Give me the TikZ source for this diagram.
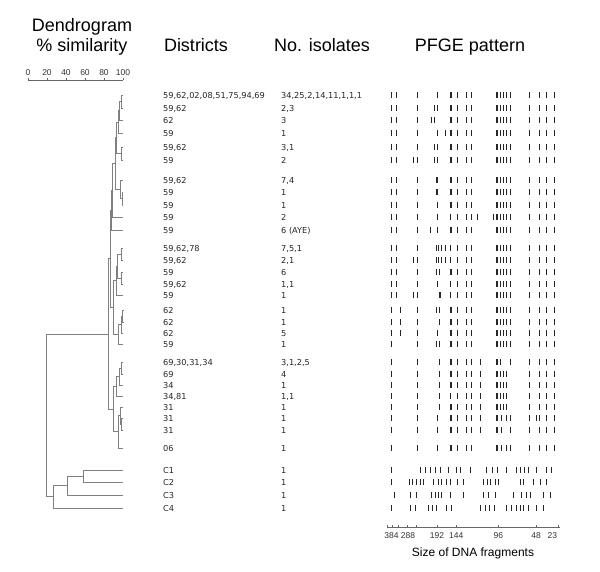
\documentclass[tikz,border=0pt]{standalone}
\usepackage{fontspec}
\setmainfont{Liberation Sans}
\newfontfamily\dvs{DejaVu Sans}
\newcommand\thinb[2]{\foreach \bx in {#2} {\fill[band] (\bx-0.45,#1-3.2) rectangle (\bx+0.45,#1+3.2);}}
\newcommand\thickb[2]{\foreach \bx in {#2} {\fill[band] (\bx-0.95,#1-3.2) rectangle (\bx+0.95,#1+3.2);}}
\newcommand\brk[5]{\draw[dend] (#1,#2) -- (#3,#2) -- (#3,#4) -- (#5,#4);}
\begin{document}
\begin{tikzpicture}[x=1pt,y=-1pt,
  dend/.style={draw=black!50, line width=0.6pt},
  band/.style={fill=black!85},
  hdr/.style={font=\fontsize{18}{20}\selectfont, inner sep=0pt, anchor=base},
  dat/.style={font=\dvs\fontsize{8.2}{9}\selectfont, inner sep=0pt, anchor=base west, text=black!85},
  axl/.style={font=\fontsize{8.5}{10}\selectfont, inner sep=0pt, anchor=base, text=black!80},
  axline/.style={draw=black!60, line width=0.5pt}]
\useasboundingbox (0,0) rectangle (600,572);
\fill[white] (0,0) rectangle (600,572);
% headers
\node[hdr] (h1) at (82,31.5) {Dendrogram};
\node[hdr] (h2) at (82,52) {\% similarity};
\node[hdr] (h3) at (196,52) {Districts};
\node[hdr] (h4) at (322,52) {No. isolates};
\node[hdr] (h5) at (470,52) {PFGE pattern};
% similarity axis
\draw[axline] (28,80) -- (123,80);
\foreach \p/\l in {0/0,20/20,40/40,60/60,80/80,100/100} {
  \draw[axline] (28+0.95*\p,80) -- (28+0.95*\p,78);
  \node[axl] (s\p) at (28+0.95*\p,75.5) {\l};
}
% table text
\foreach \i/\y/\d/\n in {
 1/95/{59,62,02,08,51,75,94,69}/{34,25,2,14,11,1,1,1},
 2/108/{59,62}/{2,3}, 3/120/{62}/{3}, 4/133/{59}/{1}, 5/147/{59,62}/{3,1}, 6/160/{59}/{2},
 7/180/{59,62}/{7,4}, 8/192/{59}/{1}, 9/205/{59}/{1}, 10/217/{59}/{2}, 11/230/{59}/{6 (AYE)},
 12/248/{59,62,78}/{7,5,1}, 13/260/{59,62}/{2,1}, 14/272/{59}/{6}, 15/284/{59,62}/{1,1}, 16/295/{59}/{1},
 17/310/{62}/{1}, 18/322/{62}/{1}, 19/333/{62}/{5}, 20/344/{59}/{1},
 21/362/{69,30,31,34}/{3,1,2,5}, 22/374/{69}/{4}, 23/385/{34}/{1}, 24/396/{34,81}/{1,1},
 25/407/{31}/{1}, 26/418/{31}/{1}, 27/430/{31}/{1}, 28/448/{06}/{1},
 29/470/{C1}/{1}, 30/482/{C2}/{1}, 31/495/{C3}/{1}, 32/508/{C4}/{1}} {
  \node[dat] (d\i) at (163,\y+3.1) {\d};
  \node[dat] (n\i) at (281,\y+3.1) {\n};
}
% dendrogram
\brk{123}{95}{121}{108}{123}
\brk{121}{101.5}{119.5}{120}{123}
\brk{119.5}{110.75}{118.5}{133}{123}
\brk{123}{147}{121}{160}{123}
\brk{118.5}{121.9}{116.5}{153.5}{121}
\brk{123}{192}{122}{205}{123}
\brk{123}{180}{120.5}{198.5}{122}
\brk{116.5}{137.7}{115}{189.25}{120.5}
\brk{115}{163.5}{112.5}{217}{123}
\brk{112.5}{190.25}{111}{230}{123}
\brk{123}{248}{121}{260}{123}
\brk{123}{272}{121}{284}{123}
\brk{121}{254}{117.5}{278}{121}
\brk{117.5}{266}{116}{295}{123}
\brk{123}{310}{122.5}{322}{123}
\brk{122.5}{316}{121.5}{333}{123}
\brk{121.5}{324.5}{118.5}{344}{123}
\brk{116}{280.5}{113.3}{334.25}{118.5}
\brk{111}{210.1}{110}{307.4}{113.3}
\brk{123}{362}{121}{374}{123}
\brk{121}{368}{119.5}{385}{123}
\brk{119.5}{376.5}{116.5}{396}{123}
\brk{123}{418}{121}{430}{123}
\brk{123}{407}{120}{424}{121}
\brk{120}{415.5}{118.3}{448}{123}
\brk{116.5}{386.25}{113.3}{431.75}{118.3}
\brk{110}{258.75}{108.3}{409}{113.3}
\brk{123}{470}{83}{482}{123}
\brk{83}{476}{67}{495}{123}
\brk{67}{485.5}{53}{508}{123}
\brk{108.3}{333.9}{46}{496.75}{53}
% PFGE bands: cluster 1
\thinb{95}{391.7,396,417.3,437.3,457.3,466,471.7,500.7,503.5,506.3,510.7,539,546.7,554}
\thickb{95}{450.7,497.3,529.5}
\thinb{108}{391.7,396,417.3,434,437.3,457.3,466,471.7,500.7,503.5,506.3,510.7,539,546.7,554}
\thickb{108}{450.7,497.3,529.5}
\thinb{120}{391.7,396,417.3,431,434.5,457.3,466,471.7,500.7,503.5,506.3,510.7,539,546.7,554}
\thickb{120}{450.7,497.3,529.5}
\thinb{133}{391.7,396,417.3,437.3,445,457.3,466,471.7,500.7,503.5,506.3,510.7,539,546.7,554}
\thickb{133}{450.7,497.3,529.5}
\thinb{147}{391.7,396,417.3,434.5,437.5,457.3,466,471.7,500.7,503.5,506.3,510.7,539,546.7,554}
\thickb{147}{450.7,497.3,529.5}
\thinb{160}{391.7,396,413,417.3,434.5,437.5,457.3,466,471.7,500.7,503.5,506.3,510.7,539,546.7,554}
\thickb{160}{450.7,497.3,529.5}
\thinb{180}{391.7,396,417.3,457.3,466,471.7,500.7,503.5,506.3,510.7,539,546.7,554}
\thickb{180}{437.3,450.7,497.3,529.5}
\thinb{192}{391.7,396,417.3,457.3,466,471.7,500.7,503.5,506.3,510.7,529,539,546.7,554}
\thickb{192}{437.3,450.7,497.3}
\thinb{205}{391.7,396,417.3,437.3,457.3,466,471.7,500.7,503.5,506.3,510.7,539,546.7,554}
\thickb{205}{450.7,497.3,529.5}
\thinb{217}{391.7,396,417.3,437.3,450.7,457.3,466,471.7,477,493.3,500.7,503.5,506.3,510.7,539,546.7,554}
\thickb{217}{497.3,529.5}
\thinb{230}{391.7,396,417.3,430,437.3,457.3,466,471.7,500.7,503.5,506.3,510.7,529,539,546.7,554}
\thickb{230}{450.7,497.3}
% cluster 2
\thinb{248}{391.7,396,417.3,436,438.7,441.3,445,450.7,457.3,466,471.7,500.7,503.5,506.3,510.7,539,546.7,554}
\thickb{248}{497.3,529.5}
\thinb{260}{391.7,396,413,417.3,436,438.7,441.3,445,450.7,457.3,466,471.7,500.7,503.5,506.3,510.7,539,546.7,554}
\thickb{260}{497.3,529.5}
\thinb{272}{391.7,396,417.3,439.7,457.3,466,471.7,500.7,503.5,506.3,510.7,539,546.7,554}
\thickb{272}{436.5,450.7,497.3,529.5}
\thinb{284}{391.7,396,417.3,437.3,450.7,457.3,466,471.7,500.7,503.5,506.3,510.7,539,546.7,554}
\thickb{284}{497.3,529.5}
\thinb{295}{391.7,396,413.5,417.3,450.7,457.3,466,471.7,500.7,503.5,506.3,510.7,539,546.7,554}
\thickb{295}{440,497.3,529.5}
\thinb{310}{391.7,400,417.3,436,439,457.3,466,471.7,500.7,503.5,506.3,510.7,539,546.7,554}
\thickb{310}{450.7,497.3,529.5}
\thinb{322}{391.7,400,417.3,439,457.3,466,471.7,500.7,503.5,506.3,510.7,539,546.7,554}
\thickb{322}{450.7,497.3,529.5}
\thinb{333}{391.7,400,417.3,437.3,457.3,466,471.7,500.7,503.5,506.3,510.7,539,546.7,554}
\thickb{333}{450.7,497.3,529.5}
\thinb{344}{391.7,417.3,436,439,457.3,466,471.7,500.7,503.5,506.3,510.7,539,546.7,554}
\thickb{344}{450.7,497.3,529.5}
% cluster 3
\thinb{362}{391.7,417.3,439.3,457.3,466,471.7,480,500.7,510.7,539,546.7,554}
\thickb{362}{450.7,497.3,529.5}
\thinb{374}{391.7,417.3,439.3,457.3,466,471.7,480,500.7,503.5,506.3,539,546.7,554}
\thickb{374}{450.7,497.3,529.5}
\thinb{385}{391.7,417.3,439.3,457.3,466,471.7,480,500.7,503.5,506.3,539,546.7,554}
\thickb{385}{450.7,497.3,529.5}
\thinb{396}{391.7,417.3,439.3,450.7,457.3,466,471.7,480,500.7,503.5,506.3,539,546.7,554}
\thickb{396}{497.3,529.5}
\thinb{407}{391.7,417.3,439.3,457.3,466,471.7,480,500.7,503.5,506.3,529,539,546.7,554}
\thickb{407}{450.7,497.3}
\thinb{418}{391.7,417.3,437,457.3,466,471.7,480,501.7,506,510,536.7,539,546.7,554}
\thickb{418}{450.7,497.3,529.5}
\thinb{430}{391.7,417.3,437,457.3,466,471.7,480,501.7,510,539,546.7,554}
\thickb{430}{450.7,497.3,529.5}
\thinb{448}{391.7,417.3,437,457.3,466,471.7,501.7,506,510,539,546.7,554}
\thickb{448}{450.7,497.3,529.5}
% outgroup
\thinb{470}{391.7,420,425,430,435,440.7,448.3,456,460,470,486,492.7,497.3,506.7,516.7,520.7,524.3,528.3,536.7,546.7,551.7}
\thinb{482}{391.7,409.3,412.7,416.7,420.7,423.3,433.3,438.3,441.7,446,450,457.3,463.3,483.3,487.3,490.7,495,498.3,520,523.3,533.3,540,546.7}
\thinb{495}{394,410,416.7,431.7,435,438.3,441.7,450,463.3,483.3,488.3,495,513.3,521.7,526.7,530,543.3,550}
\thinb{508}{391.7,410,415,428.3,432.7,436,446.7,451.7,480,485,489.3,494,506.7,511.7,516,520,523.3,528.3,536.7,543.3}
% size axis
\draw[axline] (387,527) -- (560,527);
\foreach \t in {387,392.5,398,407,416,437,456.3,498.3,536,558} {\draw[axline] (\t,527) -- (\t,525);}
\foreach \t/\l/\k in {391.5/384/a,408/288/b,437/192/c,456.3/144/d,498.3/96/e,536/48/f,552.3/23/g} {
  \node[axl] (z\k) at (\t,538) {\l};
}
\node[font=\fontsize{12}{14}\selectfont, inner sep=0pt, anchor=base] (cap) at (473,556) {Size of DNA fragments};
\end{tikzpicture}
\end{document}
